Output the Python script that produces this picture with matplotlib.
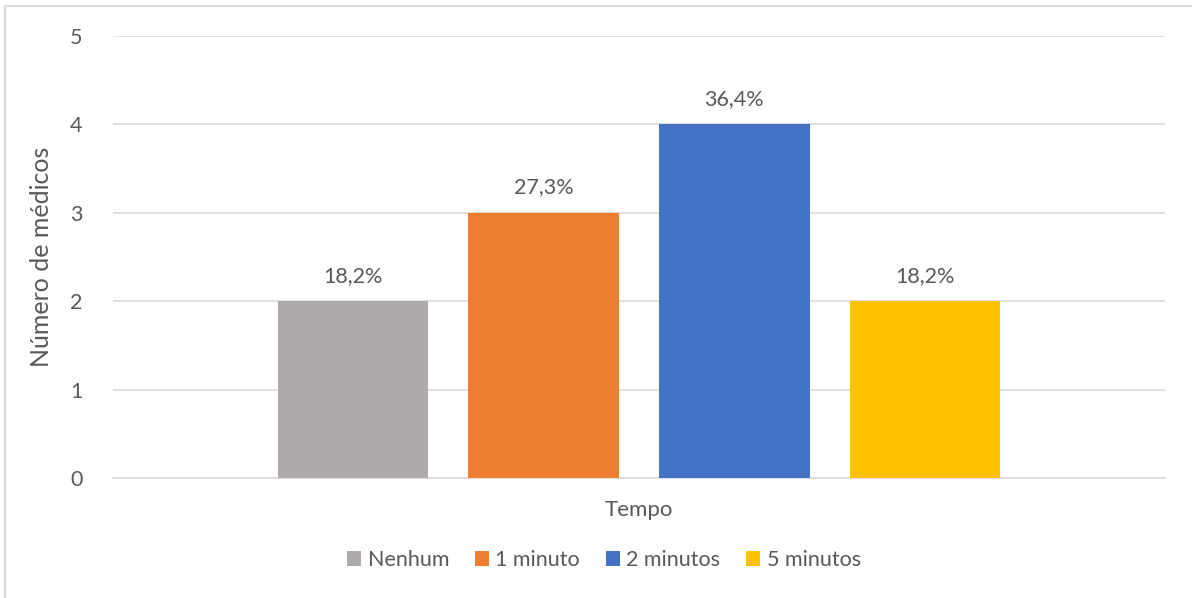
import matplotlib
matplotlib.use("Agg")
import matplotlib.pyplot as plt
from matplotlib.patches import Patch
from matplotlib.lines import Line2D

categories = ["Nenhum", "1 minuto", "2 minutos", "5 minutos"]
values = [2, 3, 4, 2]
labels = ["18,2%", "27,3%", "36,4%", "18,2%"]
colors = ["#AEAAAA", "#ED7D31", "#4472C4", "#FFC000"]
yticks = [0, 1, 2, 3, 4, 5]

plt.rcParams['font.family'] = ['Lato', 'DejaVu Sans']
txt = "#595959"

fig = plt.figure(figsize=(11.92, 5.98), dpi=100)
ax = fig.add_axes([113/1192, 1-478/598, (1165-113)/1192, (478-36)/598])

pos = list(range(len(categories)))
ax.bar(pos, values, width=0.79, color=colors, zorder=3)
for p, v, l in zip(pos, values, labels):
    ax.annotate(l, (p, v), xytext=(0, 11), textcoords="offset points",
                ha="center", va="bottom", fontsize=15.5, color=txt)

ax.set_xlim(-1.26, 3 + 1.26)
ax.set_ylim(0, 5)
ax.set_yticks(yticks)
ax.set_yticklabels([str(t) for t in yticks], fontsize=15.5, color=txt)
ax.tick_params(axis='y', length=0, pad=22)
ax.set_xticks([])
ax.grid(axis='y', color="#D9D9D9", linewidth=1.2, zorder=0)
for s in ["top", "right", "left"]:
    ax.spines[s].set_visible(False)
ax.spines["bottom"].set_color("#D9D9D9")
ax.spines["bottom"].set_linewidth(1.2)
ax.set_ylabel("Número de médicos", fontsize=18, color=txt, labelpad=12)
ax.set_xlabel("Tempo", fontsize=16, color=txt, labelpad=16)

handles = [Patch(facecolor=c, edgecolor='none') for c in colors]
fig.legend(handles, categories, loc="center", bbox_to_anchor=(604/1192, 1-560/598),
           ncol=4, frameon=False, fontsize=15.5, labelcolor=txt,
           handlelength=0.65, handleheight=0.65, handletextpad=0.3, columnspacing=1.2)

# chart border (top and left visible)
fig.add_artist(Line2D([5/1192, 5/1192], [0, 1-6/598], transform=fig.transFigure, color="#D9D9D9", linewidth=1.5))
fig.add_artist(Line2D([5/1192, 1], [1-6/598, 1-6/598], transform=fig.transFigure, color="#D9D9D9", linewidth=1.5))

fig.savefig("out.png", dpi=100)
